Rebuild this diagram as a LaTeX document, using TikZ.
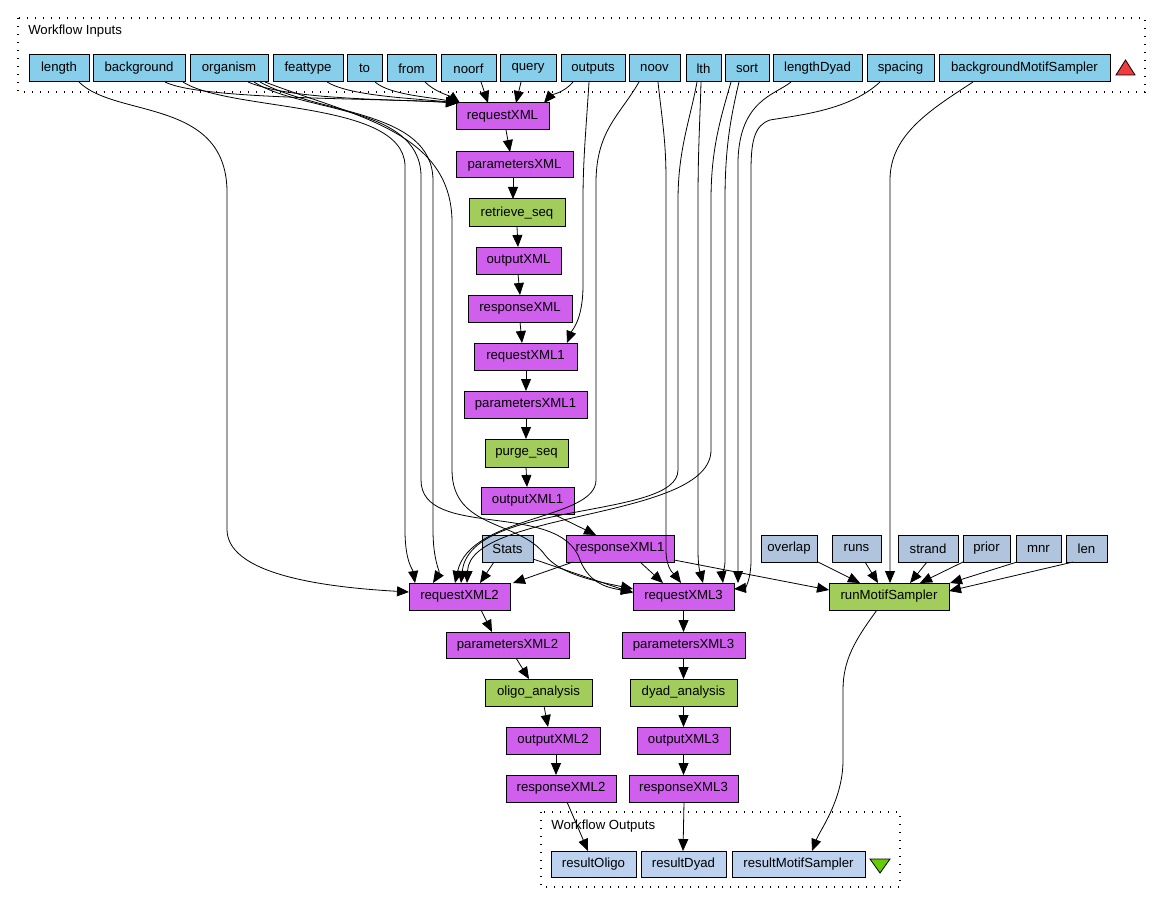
\documentclass[tikz,border=0pt]{standalone}
\usepackage{fontspec}
\setmainfont{Liberation Sans}
\usetikzlibrary{arrows.meta,calc}
\definecolor{inp}{RGB}{135,206,235}
\definecolor{xml}{RGB}{209,95,238}
\definecolor{proc}{RGB}{162,205,90}
\definecolor{cst}{RGB}{176,196,222}
\definecolor{outp}{RGB}{188,210,238}
\definecolor{tri1}{RGB}{240,60,60}
\definecolor{tri2}{RGB}{102,204,0}
\newcommand\bx[7]{\node[box,fill=#1, minimum width={(#5-#3)*0.75pt}, minimum height={(#6-#4)*0.75pt}] (#2) at ({(#3+#5)/2},{(#4+#6)/2}) {#7};}
\tikzset{
  box/.style={draw=black, line width=0.75pt, inner sep=0pt, outer sep=0pt, font=\fontsize{9.9}{11}\selectfont},
  e/.style={line width=0.6pt, -{Triangle[length=9pt,width=7.5pt]}},
  dotbox/.style={draw=black, line width=0.8pt, dash pattern=on 0.8pt off 5.2pt},
  lbl/.style={font=\fontsize{9.9}{11}\selectfont, anchor=west, inner sep=0pt}
}
\begin{document}
\begin{tikzpicture}[x=0.75pt,y=-0.75pt]
\useasboundingbox (0,0) rectangle (1162,916);
% frames
\draw[dotbox] (18,18) rectangle (1145,92);
\node[lbl] (inlabel) at (28,31) {Workflow Inputs};
\draw[dotbox] (541,812) rectangle (900,887);
\node[lbl] (outlabel) at (551,826) {Workflow Outputs};
\draw[fill=tri1, line width=0.6pt] (1116,75) -- (1135,75) -- (1125.5,60) -- cycle;
\draw[fill=tri2, line width=0.6pt] (870,859) -- (890,859) -- (880,873) -- cycle;
% inputs
\bx{inp}{length}{29}{55}{89}{82}{length}
\bx{inp}{background}{93}{55}{185}{82}{background}
\bx{inp}{organism}{190}{55}{268}{82}{organism}
\bx{inp}{feattype}{273}{55}{343}{82}{feattype}
\bx{inp}{to}{347}{55}{382}{82}{to}
\bx{inp}{from}{387}{55}{436}{82}{from}
\bx{inp}{noorf}{441}{55}{496}{82}{noorf}
\bx{inp}{query}{500}{55}{556}{82}{query}
\bx{inp}{outputs}{561}{55}{625}{82}{outputs}
\bx{inp}{noov}{629}{55}{680}{82}{noov}
\bx{inp}{lth}{686}{55}{721}{82}{lth}
\bx{inp}{sort}{725}{55}{769}{82}{sort}
\bx{inp}{lengthDyad}{773}{55}{862}{82}{lengthDyad}
\bx{inp}{spacing}{867}{55}{934}{82}{spacing}
\bx{inp}{bMS}{939}{55}{1110}{82}{backgroundMotifSampler}
% main column
\bx{xml}{requestXML}{456}{103}{549}{130}{requestXML}
\bx{xml}{parametersXML}{456}{152}{573}{178}{parametersXML}
\bx{proc}{retrieveseq}{469}{199}{565}{227}{retrieve\_seq}
\bx{xml}{outputXML}{476}{247}{561}{274}{outputXML}
\bx{xml}{responseXML}{468}{295}{572}{322}{responseXML}
\bx{xml}{requestXMLa}{474}{343}{577}{370}{requestXML1}
\bx{xml}{parametersXMLa}{464}{391}{587}{418}{parametersXML1}
\bx{proc}{purgeseq}{485}{439}{568}{467}{purge\_seq}
\bx{xml}{outputXMLa}{481}{487}{574}{514}{outputXML1}
\bx{cst}{Stats}{482}{535}{533}{562}{Stats}
\bx{xml}{responseXMLa}{566}{535}{674}{562}{responseXML1}
\bx{xml}{requestXMLb}{409}{583}{510}{610}{requestXML2}
\bx{xml}{requestXMLc}{633}{583}{734}{610}{requestXML3}
\bx{xml}{parametersXMLb}{446}{632}{569}{658}{parametersXML2}
\bx{xml}{parametersXMLc}{622}{632}{745}{658}{parametersXML3}
\bx{proc}{oligo}{485}{679}{592}{706}{oligo\_analysis}
\bx{proc}{dyad}{630}{679}{737}{706}{dyad\_analysis}
\bx{xml}{outputXMLb}{506}{727}{600}{754}{outputXML2}
\bx{xml}{outputXMLc}{637}{727}{730}{754}{outputXML3}
\bx{xml}{responseXMLb}{506}{775}{616}{802}{responseXML2}
\bx{xml}{responseXMLc}{629}{775}{738}{802}{responseXML3}
% motif sampler
\bx{cst}{overlap}{761}{535}{817}{562}{overlap}
\bx{cst}{runs}{832}{535}{881}{562}{runs}
\bx{cst}{strand}{898}{535}{958}{562}{strand}
\bx{cst}{prior}{963}{535}{1010}{562}{prior}
\bx{cst}{mnr}{1016}{535}{1061}{562}{mnr}
\bx{cst}{len}{1066}{535}{1107}{562}{len}
\bx{proc}{rMS}{829}{583}{949}{610}{runMotifSampler}
% outputs
\bx{outp}{resultOligo}{551}{851}{636}{877}{resultOligo}
\bx{outp}{resultDyad}{641}{851}{726}{877}{resultDyad}
\bx{outp}{resultMS}{732}{851}{865}{877}{resultMotifSampler}

% ---- edges into requestXML
\draw[e] ($(background.south west)+(72,0)$) .. controls (200,100) and (380,98) .. ($(requestXML.north west)+(2,0)$);
\draw[e] ($(organism.south west)+(58,0)$) .. controls (290,100) and (390,99) .. ($(requestXML.north west)+(2,0)$);
\draw[e] ($(feattype.south west)+(54,0)$) .. controls (350,96) and (410,98) .. ($(requestXML.north west)+(2,0)$);
\draw[e] ($(to.south west)+(28,0)$) .. controls (390,95) and (430,97) .. ($(requestXML.north west)+(3,0)$);
\draw[e] ($(from.south west)+(38,0)$) .. controls (435,92) and (450,96) .. ($(requestXML.north west)+(4,0)$);
\draw[e] ($(noorf.south west)+(40,0)$) -- ($(requestXML.north west)+(32,0)$);
\draw[e] ($(query.south west)+(21,0)$) -- ($(requestXML.north west)+(60,0)$);
\draw[e] ($(outputs.south west)+(12,0)$) .. controls (565,92) and (550,96) .. ($(requestXML.north west)+(88,0)$);
% chain
\draw[e] ($(requestXML.south west)+(50,0)$) -- ($(parametersXML.north west)+(54,0)$);
\draw[e] ($(parametersXML.south west)+(57,0)$) -- ($(retrieveseq.north west)+(44,0)$);
\draw[e] ($(retrieveseq.south west)+(48,0)$) -- ($(outputXML.north west)+(42,0)$);
\draw[e] ($(outputXML.south west)+(42,0)$) -- ($(responseXML.north west)+(52,0)$);
\draw[e] ($(responseXML.south west)+(52,0)$) -- ($(requestXMLa.north west)+(48,0)$);
\draw[e] ($(outputs.south west)+(28,0)$) .. controls (586,130) and (583,160) .. (583,200) -- (583,285) .. controls (583,320) and (572,330) .. ($(requestXMLa.north west)+(93,0)$);
\draw[e] ($(requestXMLa.south west)+(52,0)$) -- ($(parametersXMLa.north west)+(62,0)$);
\draw[e] ($(parametersXMLa.south west)+(62,0)$) -- ($(purgeseq.north west)+(41,0)$);
\draw[e] ($(purgeseq.south west)+(41,0)$) -- ($(outputXMLa.north west)+(46,0)$);
\draw[e] ($(outputXMLa.south west)+(72,0)$) -- ($(responseXMLa.north west)+(30,0)$);
% length
\draw[e] ($(length.south west)+(50,0)$) .. controls (115,118) and (225,98) .. (227,190) -- (227,530) .. controls (228,578) and (340,588) .. ($(requestXMLb.north west)+(0,9)$);
% background / organism down
\draw[e] ($(background.south west)+(90,0)$) .. controls (230,112) and (402,100) .. (405,165) -- (405,530) .. controls (405,562) and (413,570) .. ($(requestXMLb.north west)+(6,0)$);
\draw[e] ($(organism.south west)+(64,0)$) .. controls (300,112) and (419,105) .. (421,175) -- (421,480) .. controls (421,540) and (560,500) .. (580,560) .. controls (590,585) and (610,588) .. ($(requestXMLc.north west)+(0,9)$);
\draw[e] ($(organism.south west)+(70,0)$) .. controls (320,115) and (432,110) .. (433,180) -- (433,530) .. controls (433,560) and (440,572) .. ($(requestXMLb.north west)+(24,0)$);
\draw[e] ($(organism.south west)+(75,0)$) .. controls (350,115) and (450,130) .. (452,220) -- (452,470) .. controls (452,530) and (520,520) .. (545,555) .. controls (560,575) and (600,582) .. ($(requestXMLc.north west)+(0,6)$);
% right side inputs
\draw[e] ($(noov.south west)+(10,0)$) .. controls (620,115) and (597,130) .. (596,180) -- (596,480) .. controls (596,520) and (470,515) .. ($(requestXMLb.north west)+(46,0)$);
\draw[e] ($(noov.south west)+(29,0)$) .. controls (662,120) and (666,140) .. (666,180) -- (666,550) .. controls (666,570) and (675,575) .. ($(requestXMLc.north west)+(48,0)$);
\draw[e] ($(lth.south west)+(11,0)$) .. controls (690,120) and (678,150) .. (678,200) -- (678,470) .. controls (678,520) and (470,500) .. ($(requestXMLb.north west)+(52,0)$);
\draw[e] ($(lth.south west)+(15,0)$) .. controls (700,120) and (698,150) .. (698,200) -- (698,550) .. controls (698,570) and (701,575) .. ($(requestXMLc.north west)+(70,0)$);
\draw[e] ($(sort.south west)+(6,0)$) .. controls (720,120) and (711,150) .. (711,200) -- (711,450) .. controls (711,520) and (470,510) .. ($(requestXMLb.north west)+(58,0)$);
\draw[e] ($(sort.south west)+(14,0)$) .. controls (730,120) and (725,150) .. (725,200) -- (725,560) .. controls (725,570) and (722,575) .. ($(requestXMLc.north west)+(90,0)$);
\draw[e] ($(lengthDyad.south west)+(18,0)$) .. controls (775,95) and (740,100) .. (738,160) -- (738,560) .. controls (738,575) and (738,580) .. ($(requestXMLc.north east)+(4,0)$);
\draw[e] ($(spacing.south west)+(13,0)$) .. controls (850,110) and (800,115) .. (770,120) .. controls (755,125) and (751,140) .. (751,170) -- (751,560) .. controls (751,580) and (745,588) .. ($(requestXMLc.north east)+(0,6)$);
% constants
\draw[e] ($(Stats.south west)+(12,0)$) -- ($(requestXMLb.north west)+(71,0)$);
\draw[e] ($(Stats.south east)+(0,-3)$) -- ($(requestXMLc.north west)+(0,10)$);
\draw[e] ($(responseXMLa.south west)+(7,0)$) -- ($(requestXMLb.north west)+(104,0)$);
\draw[e] ($(responseXMLa.south west)+(74,0)$) -- ($(requestXMLc.north west)+(30,0)$);
\draw[e] ($(responseXMLa.south east)+(0,-2)$) -- ($(rMS.north west)+(0,7)$);
% motif sampler inputs
\draw[e] ($(bMS.south west)+(34,0)$) .. controls (930,110) and (890,135) .. (890,180) -- ($(rMS.north west)+(61,0)$);
\draw[e] ($(overlap.south west)+(57,0)$) -- ($(rMS.north west)+(31,0)$);
\draw[e] ($(runs.south west)+(33,0)$) -- ($(rMS.north west)+(49,0)$);
\draw[e] ($(strand.south west)+(29,0)$) -- ($(rMS.north west)+(81,0)$);
\draw[e] ($(prior.south west)+(0,0)$) -- ($(rMS.north west)+(91,0)$);
\draw[e] ($(mnr.south west)+(1,0)$) -- ($(rMS.north east)+(1,0)$);
\draw[e] ($(len.south west)+(7,0)$) -- ($(rMS.north east)+(0,8)$);
% lower chains
\draw[e] ($(requestXMLb.south west)+(72,0)$) -- ($(parametersXMLb.north west)+(46,0)$);
\draw[e] ($(parametersXMLb.south west)+(70,0)$) -- ($(oligo.north west)+(44,0)$);
\draw[e] ($(oligo.south west)+(59,0)$) -- ($(outputXMLb.north west)+(42,0)$);
\draw[e] ($(outputXMLb.south west)+(50,0)$) -- ($(responseXMLb.north west)+(50,0)$);
\draw[e] ($(responseXMLb.south west)+(61,0)$) -- ($(resultOligo.north west)+(37,0)$);
\draw[e] (requestXMLc.south) -- (parametersXMLc.north);
\draw[e] (parametersXMLc.south) -- (dyad.north);
\draw[e] (dyad.south) -- (outputXMLc.north);
\draw[e] (outputXMLc.south) -- (responseXMLc.north);
\draw[e] ($(responseXMLc.south west)+(55,0)$) -- ($(resultDyad.north west)+(42,0)$);
\draw[e] ($(rMS.south west)+(48,0)$) .. controls (855,640) and (843,660) .. (843,690) -- (843,760) .. controls (843,800) and (820,830) .. ($(resultMS.north west)+(80,0)$);
\end{tikzpicture}
\end{document}
